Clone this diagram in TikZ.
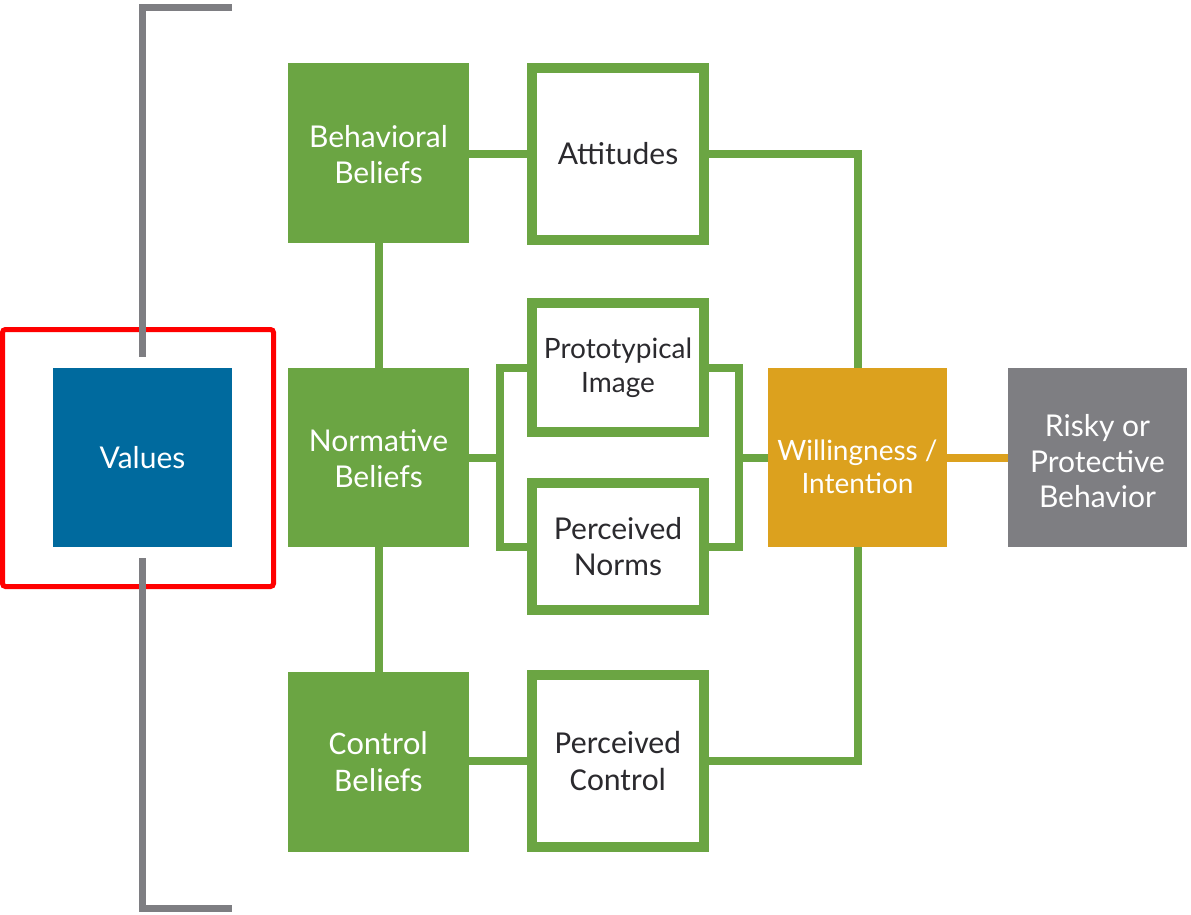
\documentclass[tikz,border=0pt]{standalone}
\usepackage{fontspec}
\setmainfont{Lato}
\newfontfamily\calibfont{Carlito}
\definecolor{leaf}{HTML}{6BA543}
\definecolor{ocean}{HTML}{006A9E}
\definecolor{amber}{HTML}{DCA11E}
\definecolor{slate}{HTML}{7E7E82}
\definecolor{ink}{HTML}{2B2A2E}
\begin{document}
\begin{tikzpicture}[x=1pt,y=-1pt,
  solidbox/.style={fill=#1, draw=none, minimum width=181, minimum height=180,
    inner sep=0pt, align=center, text=white,
    font=\fontsize{30}{36}\selectfont},
  outlinebox/.style={draw=leaf, line width=10pt, fill=white, minimum width=172,
    inner sep=0pt, align=center, text=ink,
    font=\fontsize{30}{36}\selectfont},
  boxtext/.style={text=white, align=center},
  conn/.style={draw=leaf, line width=8pt},
  bracket/.style={draw=slate, line width=7pt}]
\useasboundingbox (0,0) rectangle (1191,915);

% highlight frame around the values box
\node (focus) [draw=red, line width=5pt, rounded corners=3pt,
  minimum width=271, minimum height=257, inner sep=0pt] at (138,458) {};

% grey bracket
\coordinate (brTopEnd) at (232,7.5);
\coordinate (brTopGap) at (142.5,357);
\coordinate (brBotGap) at (142.5,558);
\coordinate (brBotEnd) at (232,908);
\draw[bracket] (brTopEnd) -| (brTopGap);
\draw[bracket] (brBotGap) |- (brBotEnd);

% boxes
\node (values) [solidbox=ocean, minimum width=179, minimum height=179] at (142.5,457.5) {Values};
\node (bb) [solidbox=leaf,
  label={[boxtext, font=\fontsize{30}{36}\selectfont, yshift=-2pt]center:Behavioral\\Beliefs}] at (378.5,153) {};
\node (nb) [solidbox=leaf, minimum height=179,
  label={[boxtext, font=\fontsize{30}{36}\selectfont, yshift=-1pt]center:Normative\\Beliefs}] at (378.5,457.5) {};
\node (cb) [solidbox=leaf, font=\calibfont\fontsize{33}{37}\selectfont] at (378.5,762) {Control\\Beliefs};

\node (att) [outlinebox, minimum height=172] at (618,154) {Attitudes};
\node (proto) [outlinebox, minimum height=129, font=\fontsize{28}{34}\selectfont] at (618,367.5) {Prototypical\\Image};
\node (norms) [outlinebox, minimum height=127] at (618,546.5) {Perceived\\Norms};
\node (pctrl) [outlinebox, minimum height=172, font=\calibfont\fontsize{32}{37}\selectfont] at (618,761) {Perceived\\Control};

\node (will) [solidbox=amber, minimum width=179, minimum height=179,
  label={[boxtext, font=\fontsize{28}{33}\selectfont, yshift=-9pt]center:Willingness /\\Intention}] at (857.5,457.5) {};
\node (risk) [solidbox=slate, minimum width=179, minimum height=179,
  label={[boxtext, font=\fontsize{30}{35.5}\selectfont, yshift=-4pt]center:Risky or\\Protective\\Behavior}] at (1097.5,457.5) {};

% connectors
\coordinate (jl) at (500,457.5);
\coordinate (jr) at (739,457.5);
\draw[conn] (bb.south) -- (nb.north);
\draw[conn] (nb.south) -- (cb.north);
\draw[conn] (att.west) -- (att.west -| bb.east);
\draw[conn] (pctrl.west) -- (pctrl.west -| cb.east);
\draw[conn] (nb.east) -- (jl);
\draw[conn] (proto.west) -| (jl) |- (norms.west);
\draw[conn] (proto.east) -| (jr) |- (norms.east);
\draw[conn] (jr) -- (will.west);
\draw[conn] (att.east) -| (will.north);
\draw[conn] (pctrl.east) -| (will.south);
\draw[draw=amber, line width=8pt] (will.east) -- (risk.west);
\end{tikzpicture}
\end{document}
